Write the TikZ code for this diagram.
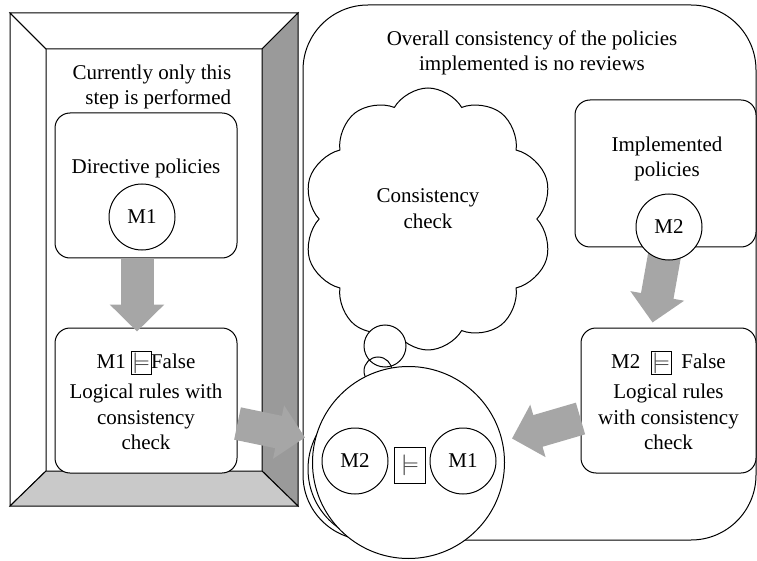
\documentclass[tikz,border=0pt]{standalone}
\usepackage{fontspec}
\setmainfont{Liberation Serif}
\usetikzlibrary{shapes.symbols,arrows.meta}
\definecolor{arrowgray}{HTML}{A6A6A6}
\definecolor{sidegray}{HTML}{9A9A9A}
\definecolor{floorgray}{HTML}{C9C9C9}
\newcommand{\entbox}{{\setlength{\fboxsep}{1pt}\fbox{$\models$}}}

\begin{document}
\begin{tikzpicture}[x=1pt, y=-1pt, line width=1pt, font=\fontsize{21}{25.5}\selectfont,
	pbox/.style={draw, fill=white, rounded corners=15pt, align=center, inner sep=0pt},
	mcirc/.style={draw, circle, fill=white, minimum size=66pt, inner sep=0pt},
	fat/.style={arrowgray, line width=33pt, -{Triangle[width=53pt,length=27pt]}}]
%		    \draw[help lines] (0,0) grid (757,561);
			\useasboundingbox (0,0) rectangle (757,561);
			% bevelled frame on the left
			\draw (10,13) -- (298,13) -- (262,49) -- (46,49) -- cycle;
			\draw (10,13) -- (46,49) -- (46,471) -- (10,506) -- cycle;
			\draw[fill=sidegray] (298,13) -- (298,506) -- (262,471) -- (262,49) -- cycle;
			\draw[fill=floorgray] (10,506) -- (298,506) -- (262,471) -- (46,471) -- cycle;
			\node[align=right, anchor=east] (note) at (235,87) {Currently only this\\step is performed};
			\node[pbox, minimum width=182pt, minimum height=145pt] (dirbox) at (146,185.5) {};
			\node (dirtext) at (146,168) {Directive policies};
			\node[mcirc] (m1top) at (142,217) {M1};
			\node[pbox, minimum width=182pt, minimum height=145pt] (rulesL) at (146,400.5) {M1 \entbox{}False\\[5pt] Logical rules with\\consistency\\check};
			% right part
			\node[draw, rounded corners=65pt, minimum width=453pt, minimum height=535pt] (outer) at (529.5,272.5) {};
			\node[align=center] (title) at (532,53) {Overall consistency of the policies\\implemented is no reviews};
			\node[cloud, draw, cloud puffs=10, cloud puff arc=120, cloud ignores aspect, minimum width=249pt, minimum height=262pt, align=center] (cloud) at (428,219) {Consistency\\check\\[-5pt]};
			\node[draw, circle, fill=white, minimum size=42pt, inner sep=0pt] (bub1) at (385,346) {};
			\node[draw, circle, minimum size=28pt, inner sep=0pt] (bub2) at (378,371) {};
			\draw (380,469) circle[radius=72pt];
			\node[draw, circle, fill=white, minimum size=192pt, inner sep=0pt] (bigc) at (408.5,462.5) {};
			\node[mcirc] (m2low) at (355,461) {M2};
			\node[mcirc] (m1low) at (463,461) {M1};
			\node[draw, minimum width=31pt, minimum height=36pt, inner sep=0pt] (ent) at (410,465) {$\models$};
			\node[pbox, minimum width=181pt, minimum height=147pt] (implbox) at (665.5,173.5) {};
			\node[align=center] (impltext) at (667,159) {Implemented\\policies};
			\node[pbox, minimum width=175pt, minimum height=145pt] (rulesR) at (668.5,400.5) {M2\enspace\entbox\enspace False\\[5pt] Logical rules\\with consistency\\check};
			% fat arrows
			\draw[fat] ([xshift=-9pt,yshift=-1pt]dirbox.south) -- ([xshift=-9pt,yshift=-4pt]rulesL.north);
			\draw[fat] ([yshift=-23pt]rulesL.east) -- ([xshift=-7pt,yshift=25pt]bigc.west);
			\draw[fat] (669,230) -- ([xshift=-16pt,yshift=5pt]rulesR.north);
			\draw[fat] ([yshift=-18pt]rulesR.west) -- ([xshift=7pt,yshift=24pt]bigc.east);
			\node[mcirc] (m2top) at (669,227) {M2};
		\end{tikzpicture}
\end{document}
